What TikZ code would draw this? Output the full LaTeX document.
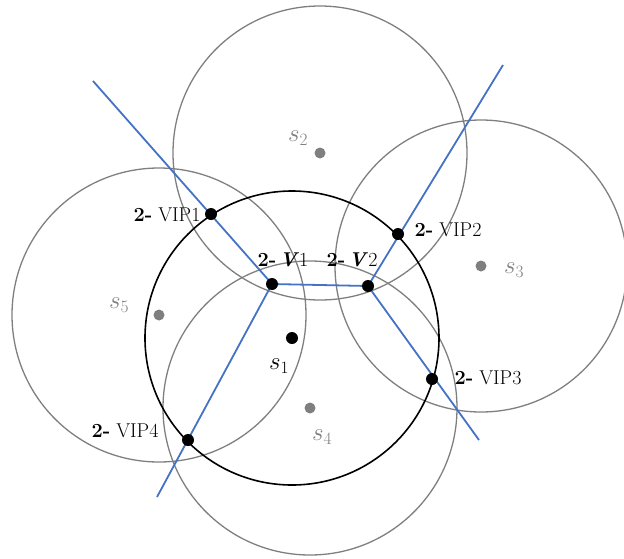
\documentclass[tikz,border=0pt]{standalone}
\usepackage{xcolor}
\definecolor{lineblue}{HTML}{4472C4}
\definecolor{cgray}{HTML}{7F7F7F}
\begin{document}
\begin{tikzpicture}[x=1pt,y=-1pt,
  gcircle/.style={draw=cgray, line width=1.3pt},
  bcircle/.style={draw=black, line width=1.6pt},
  bline/.style={draw=lineblue, line width=1.8pt},
  bdot/.style={circle, fill=black, inner sep=0pt, minimum size=12pt},
  gdot/.style={circle, fill=cgray, inner sep=0pt, minimum size=11pt},
  lbl/.style={inner sep=0pt, font=\fontsize{20}{22}\selectfont},
  slbl/.style={inner sep=0pt, font=\fontsize{26}{28}\selectfont},
]
\useasboundingbox (0,0) rectangle (624,558);
% centres
\coordinate (c1) at (292,338);
\coordinate (c2) at (320,153);
\coordinate (c3) at (481,266);
\coordinate (c4) at (310,408);
\coordinate (c5) at (159,315);
% circles
\draw[gcircle] (c2) circle (147);
\draw[gcircle] (c3) circle (146);
\draw[gcircle] (c4) circle (147);
\draw[gcircle] (c5) circle (147);
\draw[bcircle] (c1) circle (147);
% line endpoints
\coordinate (e1) at (93,81);
\coordinate (e2) at (157,497);
\coordinate (e3) at (503,65);
\coordinate (e4) at (479,440);
\coordinate (v1) at (272,284);
\coordinate (v2) at (368,286);
% blue lines
\draw[bline] (e1) -- (v1) -- (e2);
\draw[bline] (v1) -- (v2);
\draw[bline] (e3) -- (v2) -- (e4);
% dots
\node[bdot] (V1) at (v1) {};
\node[bdot] (V2) at (v2) {};
\node[bdot] (VIP1) at (211,214) {};
\node[bdot] (VIP2) at (398,234) {};
\node[bdot] (VIP3) at (432,379) {};
\node[bdot] (VIP4) at (188,440) {};
\node[bdot] (S1) at (c1) {};
\node[gdot] (S2) at (c2) {};
\node[gdot] (S3) at (c3) {};
\node[gdot] (S4) at (c4) {};
\node[gdot] (S5) at (c5) {};
% labels
\node[lbl] (L1) at (167,215) {\textbf{2-} VIP1};
\node[lbl] (L2) at (448,230) {\textbf{2-} VIP2};
\node[lbl] (L3) at (488,378) {\textbf{2-} VIP3};
\node[lbl] (L4) at (125,431) {\textbf{2-} VIP4};
\node[lbl] (LV1) at (283,260) {\textbf{2-\,\textit{V}}1};
\node[lbl] (LV2) at (352,260) {\textbf{2-\,\textit{V}}2};
\node[slbl] (Ls1) at (279,366) {$s_1$};
\node[slbl, text=cgray] (Ls2) at (298,138) {$s_2$};
\node[slbl, text=cgray] (Ls3) at (514,270) {$s_3$};
\node[slbl, text=cgray] (Ls4) at (322,437) {$s_4$};
\node[slbl, text=cgray] (Ls5) at (119,305) {$s_5$};
\end{tikzpicture}
\end{document}
